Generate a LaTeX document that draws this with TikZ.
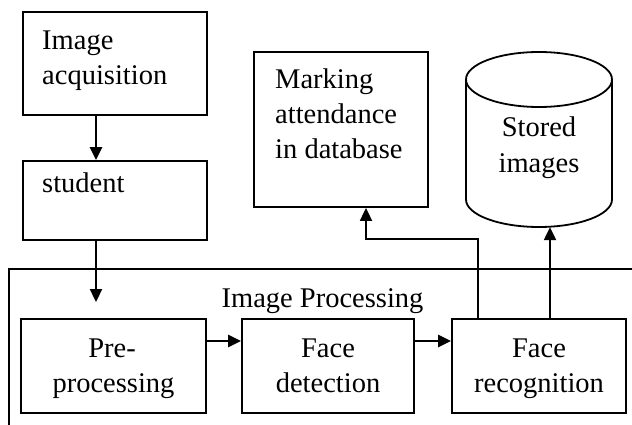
\documentclass[tikz,border=0pt]{standalone}
\usepackage{fontspec}
\setmainfont{Liberation Serif}
\usetikzlibrary{arrows.meta}
\begin{document}
\begin{tikzpicture}[x=1pt,y=-1pt,
  box/.style={draw,line width=1.8pt,rectangle,inner sep=0pt},
  txt/.style={font=\fontsize{28.5}{35}\selectfont,inner sep=0pt},
  arr/.style={line width=2.3pt,-{Triangle[length=13pt,width=12pt]}},
  thinarr/.style={line width=1.8pt,-{Triangle[length=13pt,width=12pt]}}]
\useasboundingbox (0,0) rectangle (632,425);
% boxes
\node[box,minimum width=184pt,minimum height=103pt] (acq) at (115,63.5) {};
\node[box,minimum width=184pt,minimum height=79pt] (stud) at (115,200.5) {};
\node[box,minimum width=174pt,minimum height=155pt] (mark) at (341,129.5) {};
\node[rectangle,inner sep=0pt,minimum width=146pt,minimum height=175pt] (stored) at (539,139.5) {};
\node[box,minimum width=185pt,minimum height=94pt] (pre) at (113.5,366) {};
\node[box,minimum width=172pt,minimum height=94pt] (det) at (328,366) {};
\node[box,minimum width=174pt,minimum height=94pt] (rec) at (539,366) {};
% cylinder
\draw[line width=1.8pt] (539,79.5) ellipse [x radius=73pt, y radius=27.5pt];
\draw[line width=1.8pt] (466,79.5) -- (466,199.5) arc[start angle=180,end angle=360,x radius=73pt,y radius=27.5pt] -- (612,79.5);
% frame
\draw[line width=1.6pt] (632,269) -- (9,269) -- (9,425);
% texts
\node[txt,anchor=base west] (t1) at (42,50) {Image};
\node[txt,anchor=base west] (t2) at (42,85) {acquisition};
\node[txt,anchor=base west] (t3) at (42,193) {student};
\node[txt,anchor=base west] (t4) at (275,89) {Marking};
\node[txt,anchor=base west] (t5) at (275,124) {attendance};
\node[txt,anchor=base west] (t6) at (275,159) {in database};
\node[txt,anchor=base] (t7) at (539,137) {Stored};
\node[txt,anchor=base] (t8) at (539,172) {images};
\node[txt,anchor=base] (t9) at (322.5,307) {Image Processing};
\node[txt,anchor=base] (t10) at (112,357) {Pre-};
\node[txt,anchor=base] (t11) at (113.5,392) {processing};
\node[txt,anchor=base] (t12) at (328,357) {Face};
\node[txt,anchor=base] (t13) at (328,392) {detection};
\node[txt,anchor=base] (t14) at (539,357) {Face};
\node[txt,anchor=base] (t15) at (539,392) {recognition};
% connectors
\coordinate (inp) at (96,302);
\draw[arr] ([xshift=-19pt]acq.south) -- ([xshift=-19pt]stud.north);
\draw[arr] ([xshift=-19pt]stud.south) -- (inp);
\draw[arr] ([yshift=25pt]pre.east) -- ([yshift=25pt]det.west);
\draw[arr] ([yshift=25pt]det.east) -- ([yshift=25pt]rec.west);
\draw[thinarr] ([xshift=-61pt]rec.north) -- ++(0,-79) -| ([xshift=25pt]mark.south);
\draw[arr] ([xshift=11pt]rec.north) -- ([xshift=11pt]stored.south);
\end{tikzpicture}
\end{document}
